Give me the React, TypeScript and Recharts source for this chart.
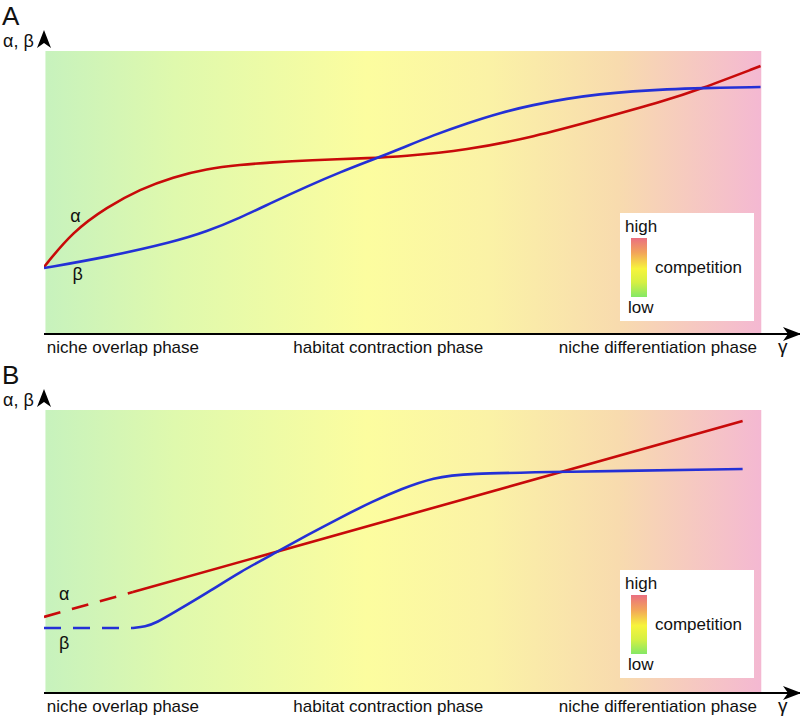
import React from 'react';
import { ComposedChart, Line, XAxis, YAxis, ReferenceArea, ReferenceDot } from 'recharts';

const X_MAX = 10.54;
const Y_MAX = 10.71;
const FONT = '"Liberation Sans", Arial, sans-serif';

// x axis labels (phases) and where they sit on the γ axis
const phaseTicks = [0.04, 4.8, 9.94, 10.3];
const phaseLabels = ['niche overlap phase', 'habitat contraction phase', 'niche differentiation phase', 'γ'];
const phaseAnchors = ['start', 'middle', 'end', 'middle'];

// panel A
const alphaA = [
  { x: 0, y: 2.37 }, { x: 0.4, y: 3.62 }, { x: 0.88, y: 4.49 }, { x: 1.34, y: 5.12 },
  { x: 1.8, y: 5.55 }, { x: 2.27, y: 5.84 }, { x: 2.73, y: 5.98 }, { x: 3.19, y: 6.07 },
  { x: 3.67, y: 6.14 }, { x: 4.59, y: 6.22 }, { x: 4.97, y: 6.27 }, { x: 5.9, y: 6.5 },
  { x: 6.82, y: 6.96 }, { x: 7.75, y: 7.6 }, { x: 8.69, y: 8.27 }, { x: 9.11, y: 8.62 },
  { x: 9.99, y: 9.47 },
];
const betaA = [
  { x: 0, y: 2.33 }, { x: 0.88, y: 2.72 }, { x: 1.8, y: 3.25 }, { x: 2.27, y: 3.62 },
  { x: 2.73, y: 4.1 }, { x: 3.19, y: 4.66 }, { x: 3.67, y: 5.22 }, { x: 4.13, y: 5.72 },
  { x: 4.59, y: 6.17 }, { x: 4.97, y: 6.55 }, { x: 5.43, y: 7.03 }, { x: 5.9, y: 7.45 },
  { x: 6.36, y: 7.82 }, { x: 6.82, y: 8.1 }, { x: 7.29, y: 8.32 }, { x: 7.75, y: 8.48 },
  { x: 8.21, y: 8.58 }, { x: 8.69, y: 8.65 }, { x: 9.15, y: 8.69 }, { x: 9.99, y: 8.73 },
];

// panel B
const alphaDashB = [{ x: 0, y: 2.69 }, { x: 1.24, y: 3.57 }];
const alphaB = [{ x: 1.24, y: 3.57 }, { x: 9.74, y: 9.61 }];
const betaDashB = [{ x: 0, y: 2.3 }, { x: 1.24, y: 2.3 }];
const betaB = [
  { x: 1.24, y: 2.3 }, { x: 1.41, y: 2.34 }, { x: 1.58, y: 2.5 }, { x: 1.8, y: 2.83 },
  { x: 2.27, y: 3.53 }, { x: 2.73, y: 4.28 }, { x: 3.26, y: 5.0 }, { x: 3.67, y: 5.58 },
  { x: 4.13, y: 6.2 }, { x: 4.59, y: 6.78 }, { x: 4.97, y: 7.2 }, { x: 5.43, y: 7.62 },
  { x: 5.9, y: 7.76 }, { x: 7.13, y: 7.81 }, { x: 9.74, y: 7.92 },
];

const RED = '#c80a0a';
const BLUE = '#2430d6';

const PhaseTick = (props: any) => {
  const { x, y, payload } = props;
  const i = phaseTicks.indexOf(payload.value);
  if (i < 0) return null;
  return (
    <text x={x} y={y + 19} textAnchor={phaseAnchors[i] as any} fontSize={i === 3 ? 19 : 17} fontFamily={FONT} fill="#111">
      {phaseLabels[i]}
    </text>
  );
};

const ArrowRight = (p: any) => (
  <path d={`M${p.cx + 1},${p.cy} L${p.cx - 17},${p.cy - 7} L${p.cx - 12},${p.cy} L${p.cx - 17},${p.cy + 7} Z`} fill="#000" />
);
const ArrowUp = (p: any) => (
  <path d={`M${p.cx},${p.cy - 1} L${p.cx - 7},${p.cy + 17} L${p.cx},${p.cy + 12} L${p.cx + 7},${p.cy + 17} Z`} fill="#000" />
);
const greek = (ch: string) => (p: any) => (
  <text x={p.cx} y={p.cy} textAnchor="middle" dominantBaseline="central" fontSize={18} fontFamily={FONT} fill="#111">{ch}</text>
);

interface PanelProps {
  id: string;
  lines: { data: { x: number; y: number }[]; color: string; dashed?: boolean; linear?: boolean }[];
  alphaAt: { x: number; y: number };
  betaAt: { x: number; y: number };
}

const Panel = ({ id, lines, alphaAt, betaAt }: PanelProps) => (
  <ComposedChart width={800} height={360} margin={{ top: 31, right: 0, bottom: 0, left: 44 }}>
    <defs>
      <linearGradient id={`bg${id}`} x1="0" y1="0" x2="1" y2="0">
        <stop offset="0%" stopColor="#c7f2bd" />
        <stop offset="18%" stopColor="#dff9ad" />
        <stop offset="45%" stopColor="#fcfd9f" />
        <stop offset="62%" stopColor="#fbf2a6" />
        <stop offset="80%" stopColor="#f8dbae" />
        <stop offset="100%" stopColor="#f4b8d2" />
      </linearGradient>
    </defs>
    <ReferenceArea x1={0.02} x2={10} y1={0} y2={10} fill={`url(#bg${id})`} fillOpacity={1} stroke="none" ifOverflow="visible" />
    <XAxis
      type="number"
      dataKey="x"
      domain={[0, X_MAX]}
      ticks={phaseTicks}
      interval={0}
      tick={<PhaseTick />}
      tickLine={false}
      tickSize={0}
      tickMargin={0}
      height={26}
      axisLine={{ stroke: '#000', strokeWidth: 2 }}
      allowDataOverflow
    />
    <YAxis type="number" dataKey="y" domain={[0, Y_MAX]} width={0} tick={false} tickLine={false} axisLine={{ stroke: '#000', strokeWidth: 2 }} allowDataOverflow />
    {lines.map((l, i) => (
      <Line
        key={i}
        data={l.data}
        dataKey="y"
        type={l.linear ? 'linear' : 'basis'}
        stroke={l.color}
        strokeWidth={2.6}
        strokeDasharray={l.dashed ? '17 12' : undefined}
        dot={false}
        activeDot={false}
        isAnimationActive={false}
      />
    ))}
    <ReferenceDot x={alphaAt.x} y={alphaAt.y} r={1} shape={greek('α')} ifOverflow="visible" />
    <ReferenceDot x={betaAt.x} y={betaAt.y} r={1} shape={greek('β')} ifOverflow="visible" />
    <ReferenceDot x={X_MAX} y={0} r={1} shape={ArrowRight} ifOverflow="visible" />
    <ReferenceDot x={0} y={Y_MAX} r={1} shape={ArrowUp} ifOverflow="visible" />
  </ComposedChart>
);

const LegendBox = ({ id, top }: { id: string; top: number }) => (
  <g transform={`translate(620, ${top})`}>
    <defs>
      <linearGradient id={`lg${id}`} x1="0" y1="0" x2="0" y2="1">
        <stop offset="0%" stopColor="#ea6f80" />
        <stop offset="25%" stopColor="#f2a45a" />
        <stop offset="52%" stopColor="#f7f43c" />
        <stop offset="75%" stopColor="#d6f043" />
        <stop offset="100%" stopColor="#84e866" />
      </linearGradient>
    </defs>
    <rect x={0} y={0} width={134} height={108} fill="#fff" />
    <rect x={11} y={25} width={16} height={59} fill={`url(#lg${id})`} />
    <text x={5} y={19} fontSize={17} fontFamily={FONT} fill="#111">high</text>
    <text x={35} y={60} fontSize={17} fontFamily={FONT} fill="#111">competition</text>
    <text x={8} y={100} fontSize={17} fontFamily={FONT} fill="#111">low</text>
  </g>
);

export default function App() {
  return (
    <div style={{ position: 'absolute', left: 0, top: 0, width: 800, height: 720, background: '#fff' }}>
      <div style={{ position: 'absolute', left: 0, top: 0 }}>
        <Panel
          id="A"
          lines={[
            { data: alphaA, color: RED },
            { data: betaA, color: BLUE },
          ]}
          alphaAt={{ x: 0.44, y: 4.17 }}
          betaAt={{ x: 0.47, y: 2.12 }}
        />
      </div>
      <div style={{ position: 'absolute', left: 0, top: 359 }}>
        <Panel
          id="B"
          lines={[
            { data: alphaDashB, color: RED, dashed: true, linear: true },
            { data: alphaB, color: RED, linear: true },
            { data: betaDashB, color: BLUE, dashed: true, linear: true },
            { data: betaB, color: BLUE },
          ]}
          alphaAt={{ x: 0.28, y: 3.5 }}
          betaAt={{ x: 0.28, y: 1.77 }}
        />
      </div>
      <svg width={800} height={720} style={{ position: 'absolute', left: 0, top: 0, pointerEvents: 'none' }}>
        <text x={2} y={25} fontSize={26} fontFamily={FONT} fill="#111">A</text>
        <text x={3} y={47} fontSize={18} fontFamily={FONT} fill="#111">α, β</text>
        <text x={2} y={384} fontSize={26} fontFamily={FONT} fill="#111">B</text>
        <text x={3} y={406} fontSize={18} fontFamily={FONT} fill="#111">α, β</text>
        <LegendBox id="A" top={213} />
        <LegendBox id="B" top={570} />
      </svg>
    </div>
  );
}
